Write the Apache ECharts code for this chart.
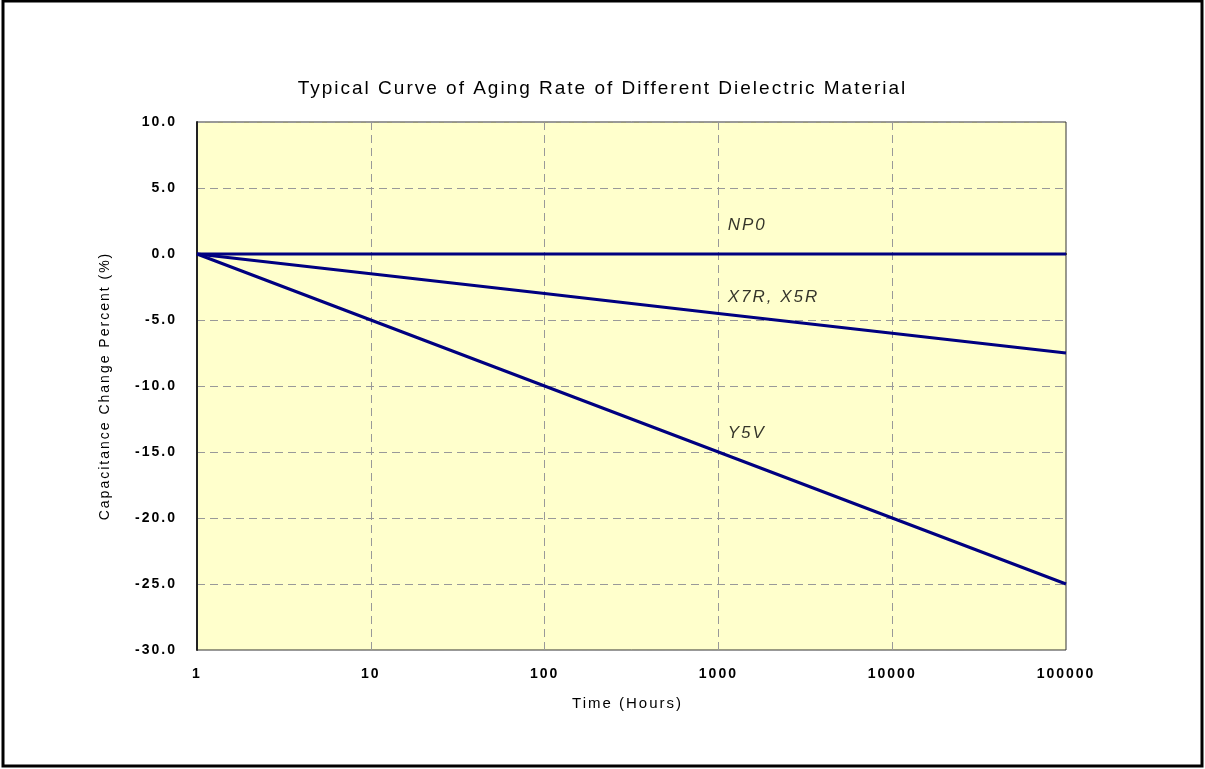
<html>
  <head>
    <meta charset="UTF-8" />
    <script src="https://cdn.jsdelivr.net/npm/echarts/dist/echarts.min.js"></script>
    <title>aging rate</title>
    <style>
      html, body { margin: 0; padding: 0; background: #fff; }
      #main { width: 1205px; height: 769px; }
    </style>
  </head>
  <body>
    <div id="main"></div>
    <script>
      // time in hours (log axis)
      var hours = [1, 10, 100, 1000, 10000, 100000];
      // capacitance change, %
      var np0 = [0, 0, 0, 0, 0, 0];
      var x7r = [0, -1.5, -3.0, -4.5, -6.0, -7.5];
      var y5v = [0, -5, -10, -15, -20, -25];
      // curve names placed inside the plot: [hours, percent, text]
      var curveLabels = [
        [1130, 2.2, 'NP0'],
        [1130, -3.3, 'X7R, X5R'],
        [1130, -13.6, 'Y5V']
      ];

      // the original export has wide letter spacing on all text;
      // canvas 2d supports it, so switch it on for every context zrender makes
      var getCtx = HTMLCanvasElement.prototype.getContext;
      HTMLCanvasElement.prototype.getContext = function (type, opts) {
        var c = getCtx.call(this, type, opts);
        if (c && type === '2d' && 'letterSpacing' in c) c.letterSpacing = '2px';
        return c;
      };

      function pairs(vals) {
        return hours.map(function (h, i) { return [h, vals[i]]; });
      }

      var lineStyle = { color: '#000080', width: 3 };
      var chart = echarts.init(document.getElementById('main'));
      var option = {
        animation: false,
        textStyle: { fontFamily: 'Liberation Sans, Arial, sans-serif' },
        title: {
          text: 'Typical Curve of Aging Rate of Different Dielectric Material',
          left: 'center',
          top: 73,
          textStyle: { fontSize: 19, fontWeight: 'normal', color: '#000' }
        },
        grid: {
          left: 197, right: 139, top: 122, bottom: 119,
          show: true,
          backgroundColor: '#FFFFCC',
          borderColor: '#333',
          borderWidth: 1
        },
        graphic: [{
          type: 'rect',
          shape: { x: 3, y: 1, width: 1199, height: 765 },
          style: { fill: 'none', stroke: '#000', lineWidth: 3 },
          silent: true
        }],
        xAxis: {
          type: 'log',
          logBase: 10,
          min: 1,
          max: 100000,
          name: 'Time (Hours)',
          nameLocation: 'middle',
          nameGap: 45,
          nameTextStyle: { fontSize: 15, color: '#000', padding: [0, 8, 0, 0] },
          axisLine: { lineStyle: { color: '#222', width: 2 } },
          axisTick: { show: false },
          axisLabel: {
            margin: 16,
            color: '#000',
            fontWeight: 'bold',
            fontSize: 14,
            formatter: function (v) { return String(Math.round(v)); }
          },
          splitLine: { show: true, lineStyle: { color: '#999', type: [8, 5], width: 1 } }
        },
        yAxis: {
          type: 'value',
          min: -30,
          max: 10,
          interval: 5,
          name: 'Capacitance Change Percent (%)',
          nameLocation: 'middle',
          nameGap: 84,
          nameTextStyle: { fontSize: 14, color: '#000' },
          axisLine: { show: true, lineStyle: { color: '#222', width: 2 } },
          axisTick: { show: false },
          axisLabel: {
            margin: 20,
            color: '#000',
            fontWeight: 'bold',
            fontSize: 14,
            formatter: function (v) { return v.toFixed(1); }
          },
          splitLine: { show: true, lineStyle: { color: '#999', type: [8, 5], width: 1 } }
        },
        series: [
          { name: 'NP0', type: 'line', data: pairs(np0), symbol: 'none', lineStyle: lineStyle },
          { name: 'X7R, X5R', type: 'line', data: pairs(x7r), symbol: 'none', lineStyle: lineStyle },
          { name: 'Y5V', type: 'line', data: pairs(y5v), symbol: 'none', lineStyle: lineStyle },
          {
            type: 'scatter',
            symbolSize: 0,
            silent: true,
            data: curveLabels.map(function (d) { return { value: [d[0], d[1]], name: d[2] }; }),
            label: {
              show: true,
              position: 'right',
              distance: 0,
              formatter: '{b}',
              fontStyle: 'italic',
              fontSize: 17,
              color: '#000'
            }
          }
        ]
      };
      chart.setOption(option);
    </script>
  </body>
</html>
